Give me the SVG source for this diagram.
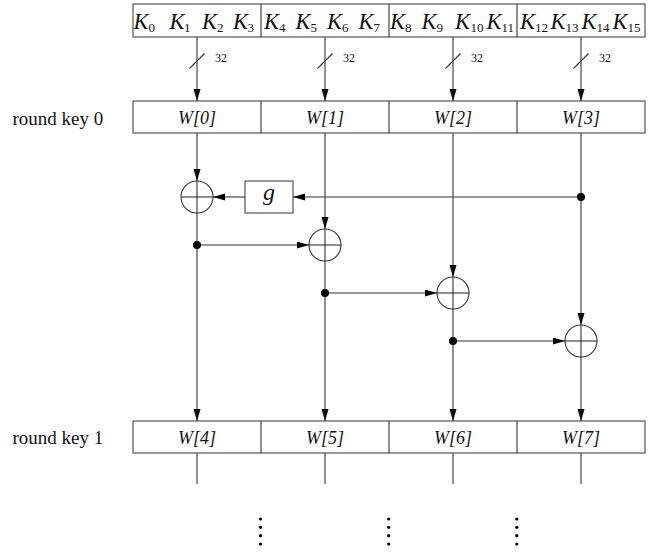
<svg xmlns="http://www.w3.org/2000/svg" width="651" height="560" viewBox="0 0 651 560">
  <style>
    .box { fill: #fff; stroke: #555; stroke-width: 1.2; }
    .ln { fill: none; stroke: #333; stroke-width: 1.1; }
    .arr { fill: none; stroke: #333; stroke-width: 1.1; marker-end: url(#ah); }
    .xor { fill: #fff; stroke: #333; stroke-width: 1.1; }
    .lbl { font-family: "Liberation Serif", "Times New Roman", serif; font-size: 19px; fill: #111; }
    .w { font-family: "Liberation Serif", "Times New Roman", serif; font-style: italic; font-size: 18px; fill: #111; text-anchor: middle; }
    .k { font-family: "Liberation Serif", "Times New Roman", serif; font-style: italic; font-size: 22.5px; fill: #111; }
    .sub { font-family: "Liberation Serif", "Times New Roman", serif; font-size: 13px; fill: #111; }
    .bw { font-family: "Liberation Serif", "Times New Roman", serif; font-size: 12px; fill: #111; }
    .g { font-family: "Liberation Serif", "Times New Roman", serif; font-style: italic; font-size: 24px; fill: #111; text-anchor: middle; }
  </style>
  <defs>
    <marker id="ah" markerUnits="userSpaceOnUse" markerWidth="12" markerHeight="8" refX="12" refY="3.5" orient="auto">
      <path d="M0,0 L12,3.5 L0,7 z" fill="#000"/>
    </marker>
  </defs>

  <!-- input key bytes -->
  <g id="key-bytes">
    <rect class="box" x="133" y="4" width="512" height="33"/>
    <line class="ln" x1="261" y1="4" x2="261" y2="37"/>
    <line class="ln" x1="389" y1="4" x2="389" y2="37"/>
    <line class="ln" x1="517" y1="4" x2="517" y2="37"/>
    <text class="k" x="133.5" y="29">K</text><text class="sub" x="148.5" y="32">0</text>
    <text class="k" x="169.5" y="29">K</text><text class="sub" x="184" y="32">1</text>
    <text class="k" x="202" y="29">K</text><text class="sub" x="217" y="32">2</text>
    <text class="k" x="233" y="29">K</text><text class="sub" x="247.5" y="32">3</text>
    <text class="k" x="264" y="29">K</text><text class="sub" x="279" y="32">4</text>
    <text class="k" x="295.5" y="29">K</text><text class="sub" x="310.5" y="32">5</text>
    <text class="k" x="327" y="29">K</text><text class="sub" x="342" y="32">6</text>
    <text class="k" x="358.5" y="29">K</text><text class="sub" x="373.5" y="32">7</text>
    <text class="k" x="390" y="29">K</text><text class="sub" x="405" y="32">8</text>
    <text class="k" x="421.5" y="29">K</text><text class="sub" x="436.5" y="32">9</text>
    <text class="k" x="455" y="29">K</text><text class="sub" x="470.5" y="32">10</text>
    <text class="k" x="486.5" y="29">K</text><text class="sub" x="501.5" y="32">11</text>
    <text class="k" x="520" y="29">K</text><text class="sub" x="535" y="32">12</text>
    <text class="k" x="550.5" y="29">K</text><text class="sub" x="565.5" y="32">13</text>
    <text class="k" x="581.5" y="29">K</text><text class="sub" x="596.5" y="32">14</text>
    <text class="k" x="612.5" y="29">K</text><text class="sub" x="627.5" y="32">15</text>
  </g>

  <!-- round key 0 words -->
  <g id="round-key-0">
    <text class="lbl" x="12.5" y="125">round key 0</text>
    <rect class="box" x="133" y="101" width="512" height="32"/>
    <line class="ln" x1="261" y1="101" x2="261" y2="133"/>
    <line class="ln" x1="389" y1="101" x2="389" y2="133"/>
    <line class="ln" x1="517" y1="101" x2="517" y2="133"/>
    <text class="w" x="197" y="124">W[0]</text>
    <text class="w" x="325" y="124">W[1]</text>
    <text class="w" x="453" y="124">W[2]</text>
    <text class="w" x="581" y="124">W[3]</text>
  </g>

  <!-- round key 1 words -->
  <g id="round-key-1">
    <text class="lbl" x="12.5" y="444">round key 1</text>
    <rect class="box" x="133" y="421" width="512" height="32"/>
    <line class="ln" x1="261" y1="421" x2="261" y2="453"/>
    <line class="ln" x1="389" y1="421" x2="389" y2="453"/>
    <line class="ln" x1="517" y1="421" x2="517" y2="453"/>
    <text class="w" x="197" y="444">W[4]</text>
    <text class="w" x="325" y="444">W[5]</text>
    <text class="w" x="453" y="444">W[6]</text>
    <text class="w" x="581" y="444">W[7]</text>
  </g>

  <!-- g function -->
  <g id="g-func">
    <rect class="box" x="245" y="181" width="48" height="32"/>
    <text class="g" x="269" y="200">g</text>
  </g>

  <!-- XOR adders -->
  <g id="xor-0">
    <circle class="xor" cx="197" cy="197" r="16"/>
    <line class="ln" x1="181" y1="197" x2="213" y2="197"/>
  </g>
  <g id="xor-1">
    <circle class="xor" cx="325" cy="245" r="16"/>
    <line class="ln" x1="309" y1="245" x2="341" y2="245"/>
  </g>
  <g id="xor-2">
    <circle class="xor" cx="453" cy="293" r="16"/>
    <line class="ln" x1="437" y1="293" x2="469" y2="293"/>
  </g>
  <g id="xor-3">
    <circle class="xor" cx="581" cy="341" r="16"/>
    <line class="ln" x1="565" y1="341" x2="597" y2="341"/>
  </g>

  <!-- connectors -->
  <g id="connectors">
    <!-- 32-bit inputs -->
    <line class="arr" x1="197" y1="37" x2="197" y2="101"/>
    <line class="arr" x1="325" y1="37" x2="325" y2="101"/>
    <line class="arr" x1="453" y1="37" x2="453" y2="101"/>
    <line class="arr" x1="581" y1="37" x2="581" y2="101"/>
    <line class="ln" x1="189.5" y1="68.5" x2="204.5" y2="53.5"/>
    <line class="ln" x1="317.5" y1="68.5" x2="332.5" y2="53.5"/>
    <line class="ln" x1="445.5" y1="68.5" x2="460.5" y2="53.5"/>
    <line class="ln" x1="573.5" y1="68.5" x2="588.5" y2="53.5"/>
    <text class="bw" x="215" y="62">32</text>
    <text class="bw" x="343" y="62">32</text>
    <text class="bw" x="471" y="62">32</text>
    <text class="bw" x="599" y="62">32</text>

    <!-- word paths into the adders -->
    <line class="arr" x1="197" y1="133" x2="197" y2="181"/>
    <line class="arr" x1="325" y1="133" x2="325" y2="229"/>
    <line class="arr" x1="453" y1="133" x2="453" y2="277"/>
    <line class="arr" x1="581" y1="133" x2="581" y2="325"/>

    <!-- adder outputs down to round key 1 -->
    <line class="arr" x1="197" y1="181" x2="197" y2="421"/>
    <line class="arr" x1="325" y1="229" x2="325" y2="421"/>
    <line class="arr" x1="453" y1="277" x2="453" y2="421"/>
    <line class="arr" x1="581" y1="325" x2="581" y2="421"/>

    <!-- g path -->
    <line class="arr" x1="581" y1="197" x2="293" y2="197"/>
    <line class="arr" x1="245" y1="197" x2="213" y2="197"/>

    <!-- chaining -->
    <line class="arr" x1="197" y1="245" x2="309" y2="245"/>
    <line class="arr" x1="325" y1="293" x2="437" y2="293"/>
    <line class="arr" x1="453" y1="341" x2="565" y2="341"/>

    <circle cx="581" cy="197" r="4" fill="#000"/>
    <circle cx="197" cy="245" r="4" fill="#000"/>
    <circle cx="325" cy="293" r="4" fill="#000"/>
    <circle cx="453" cy="341" r="4" fill="#000"/>

    <!-- continuation below round key 1 -->
    <line class="ln" x1="197" y1="453" x2="197" y2="484"/>
    <line class="ln" x1="325" y1="453" x2="325" y2="484"/>
    <line class="ln" x1="453" y1="453" x2="453" y2="484"/>
    <line class="ln" x1="581" y1="453" x2="581" y2="484"/>
  </g>

  <!-- vertical ellipses -->
  <g id="ellipses" fill="#000">
    <circle cx="260.5" cy="519" r="1.6"/><circle cx="260.5" cy="527.3" r="1.6"/><circle cx="260.5" cy="535.7" r="1.6"/><circle cx="260.5" cy="544" r="1.6"/>
    <circle cx="388.7" cy="519" r="1.6"/><circle cx="388.7" cy="527.3" r="1.6"/><circle cx="388.7" cy="535.7" r="1.6"/><circle cx="388.7" cy="544" r="1.6"/>
    <circle cx="516.8" cy="519" r="1.6"/><circle cx="516.8" cy="527.3" r="1.6"/><circle cx="516.8" cy="535.7" r="1.6"/><circle cx="516.8" cy="544" r="1.6"/>
  </g>
</svg>
